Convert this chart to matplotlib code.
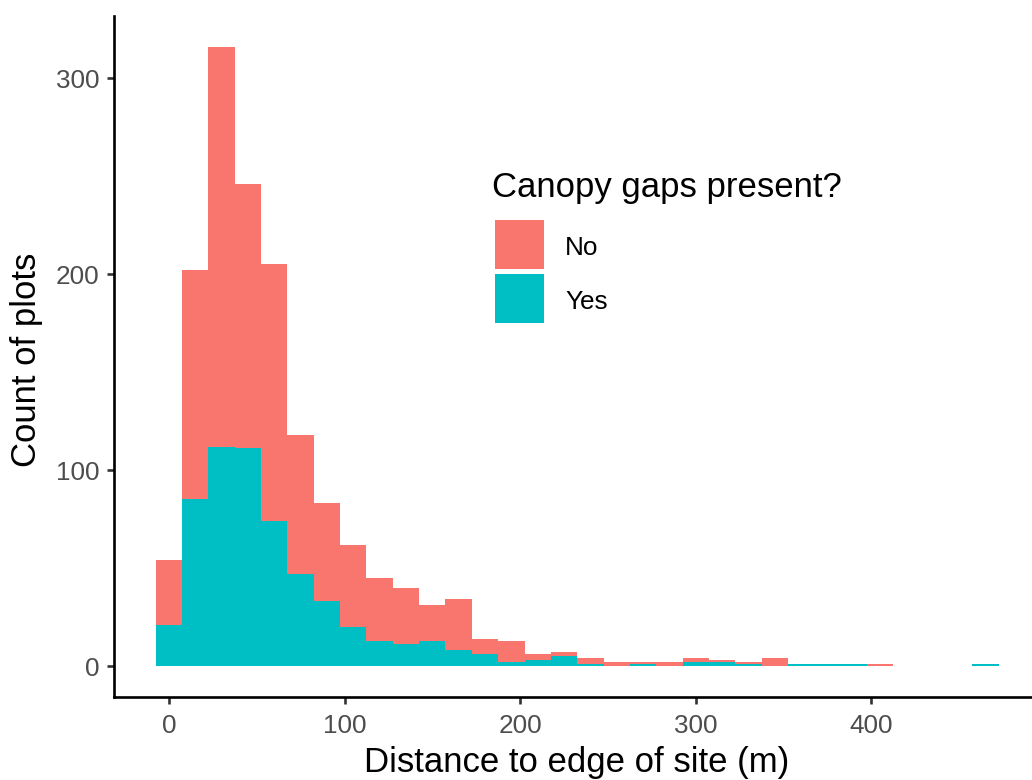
import numpy as np
import matplotlib
matplotlib.use('Agg')
import matplotlib.pyplot as plt
from matplotlib.patches import Rectangle

plt.rcParams['font.family'] = ['Liberation Sans', 'DejaVu Sans']

# bin centres (binwidth 15) and counts
bin_centers = np.arange(0, 480, 15)
yes_counts = [21, 85, 112, 111, 74, 47, 33, 20, 13, 11, 13, 8, 6, 2, 3, 5,
              1, 0, 1, 0, 2, 2, 1, 0, 1, 1, 1, 0, 0, 0, 0, 1]
total_counts = [54, 202, 316, 246, 205, 118, 83, 62, 45, 40, 31, 34, 14, 13, 6, 7,
                4, 2, 2, 2, 4, 3, 2, 4, 1, 1, 1, 1, 0, 0, 0, 1]
no_counts = [t - y for t, y in zip(total_counts, yes_counts)]

groups = ['No', 'Yes']
colors = {'No': '#F8766D', 'Yes': '#00BFC4'}
x_ticks = [0, 100, 200, 300, 400]
y_ticks = [0, 100, 200, 300]

W, H = 1032, 780
fig = plt.figure(figsize=(W / 100, H / 100), dpi=100)
ax = fig.add_axes([113.6 / W, 1 - 697 / H, (1040.8 - 113.6) / W, (697 - 15.7) / H])

# stacked histogram: Yes at the bottom, No on top
ax.bar(bin_centers, yes_counts, width=15, color=colors['Yes'], linewidth=0)
ax.bar(bin_centers, no_counts, width=15, bottom=yes_counts, color=colors['No'], linewidth=0)

ax.set_xlim(-31.5, 496.5)
ax.set_ylim(-15.8, 331.8)
ax.set_xticks(x_ticks)
ax.set_yticks(y_ticks)

for s in ['top', 'right']:
    ax.spines[s].set_visible(False)
for s in ['left', 'bottom']:
    ax.spines[s].set_linewidth(1.9)
    ax.spines[s].set_color('black')
ax.tick_params(axis='both', length=5, width=1.9, color='#333333',
               labelsize=18.8, labelcolor='#4D4D4D')
ax.tick_params(axis='x', pad=7)
ax.tick_params(axis='y', pad=5)

def fx(px):
    return px / W

def fy(py):
    return 1 - py / H

# axis titles (placed in pixels, centred on the panel)
fig.text(fx(577), fy(772), 'Distance to edge of site (m)', fontsize=25,
         ha='center', va='baseline')
fig.text(fx(27), fy(360), 'Count of plots', fontsize=25, rotation=90,
         ha='center', va='center')

# legend drawn by hand
fig.text(fx(492), fy(197), 'Canopy gaps present?', fontsize=25, va='baseline', ha='left')
key_tops = [220, 274]
for g, top in zip(groups, key_tops):
    fig.add_artist(Rectangle((fx(495), fy(top + 49)), 49 / W, 49 / H,
                             transform=fig.transFigure, facecolor=colors[g],
                             edgecolor='none'))
    fig.text(fx(565), fy(top + 35), g, fontsize=18.8, va='baseline', ha='left')

fig.savefig('out.png', dpi=100)
